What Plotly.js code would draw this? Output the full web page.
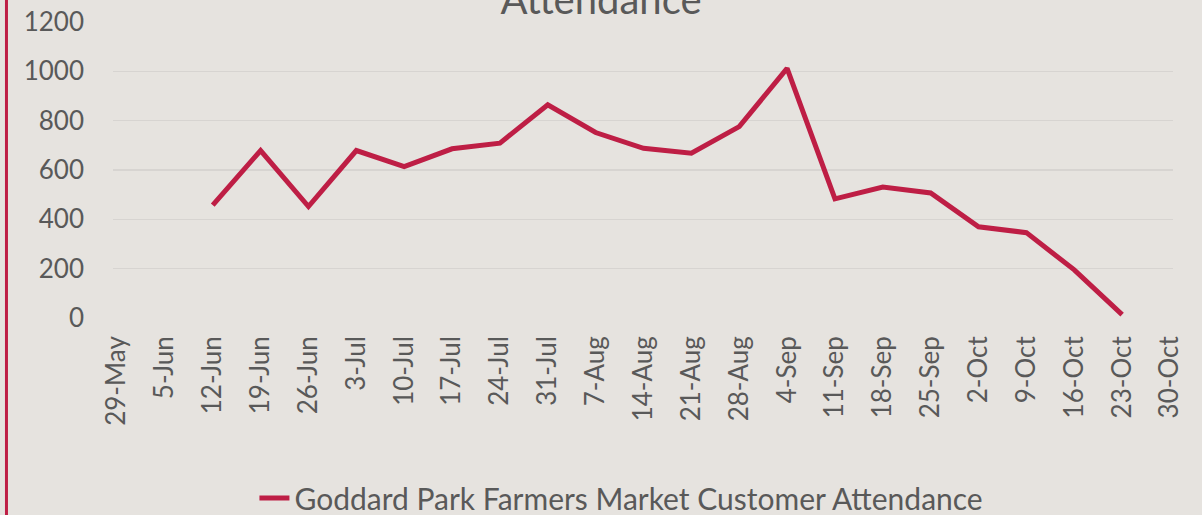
<!DOCTYPE html>
<html>
<head>
<meta charset="utf-8">
<script src="https://cdn.plot.ly/plotly-3.0.1.min.js"></script>
<style>
  html, body { margin: 0; padding: 0; background: #e6e3df; }
  #chart { width: 1202px; height: 515px; }
</style>
</head>
<body>
<div id="chart"></div>
<script>
const categories = ['29-May','5-Jun','12-Jun','19-Jun','26-Jun','3-Jul','10-Jul','17-Jul','24-Jul','31-Jul',
  '7-Aug','14-Aug','21-Aug','28-Aug','4-Sep','11-Sep','18-Sep','25-Sep','2-Oct','9-Oct','16-Oct','23-Oct','30-Oct'];
const attendance = [null, null, 458, 679, 452, 679, 614, 686, 709, 864,
  752, 688, 668, 776, 1012, 483, 531, 507, 370, 346, 195, 14, null];
const seriesName = 'Goddard Park Farmers Market Customer Attendance';
const titleText = 'Attendance';
const yTicks = [0, 200, 400, 600, 800, 1000, 1200];

const fontFam = 'Lato, "Open Sans", sans-serif';
const textColor = '#595959';

const trace = {
  x: categories,
  y: attendance,
  type: 'scatter',
  mode: 'lines',
  name: seriesName,
  line: { color: '#be1e45', width: 5 },
  connectgaps: false
};

const layout = {
  width: 1202,
  height: 515,
  paper_bgcolor: '#e6e3df',
  plot_bgcolor: 'rgba(0,0,0,0)',
  margin: { l: 113, r: 29, t: 22, b: 197 },
  font: { family: fontFam, color: textColor, size: 26 },
  title: {
    text: titleText,
    font: { family: fontFam, size: 40, color: textColor },
    x: 0.5, xref: 'container', xanchor: 'center',
    y: 1, yref: 'container', yanchor: 'middle'
  },
  xaxis: {
    type: 'category',
    categoryorder: 'array',
    categoryarray: categories,
    range: [-0.084, 22.063],
    tickangle: -90,
    showgrid: false,
    zeroline: false,
    showline: false,
    ticks: '',
    ticklabelstandoff: 12,
    tickfont: { family: fontFam, size: 26, color: textColor },
    fixedrange: true
  },
  yaxis: {
    range: [0, 1200],
    tickvals: yTicks,
    ticktext: yTicks.map(String),
    showgrid: true,
    gridcolor: '#d7d4d1',
    gridwidth: 1.5,
    zeroline: false,
    showline: false,
    ticks: '',
    ticklabelstandoff: 28,
    tickfont: { family: fontFam, size: 26, color: textColor },
    fixedrange: true
  },
  showlegend: true,
  legend: {
    orientation: 'h',
    xref: 'container', x: 0.517, xanchor: 'center',
    yref: 'container', y: 1 - 498 / 515, yanchor: 'middle',
    font: { family: fontFam, size: 30, color: textColor },
    bgcolor: 'rgba(0,0,0,0)'
  },
  shapes: [{
    type: 'line', xref: 'paper', yref: 'paper',
    x0: -0.1005, x1: -0.1005, y0: -0.7, y1: 1.1,
    line: { color: '#be1e45', width: 3 }
  }]
};

Plotly.newPlot('chart', [trace], layout, { displayModeBar: false, staticPlot: true });
</script>
</body>
</html>
